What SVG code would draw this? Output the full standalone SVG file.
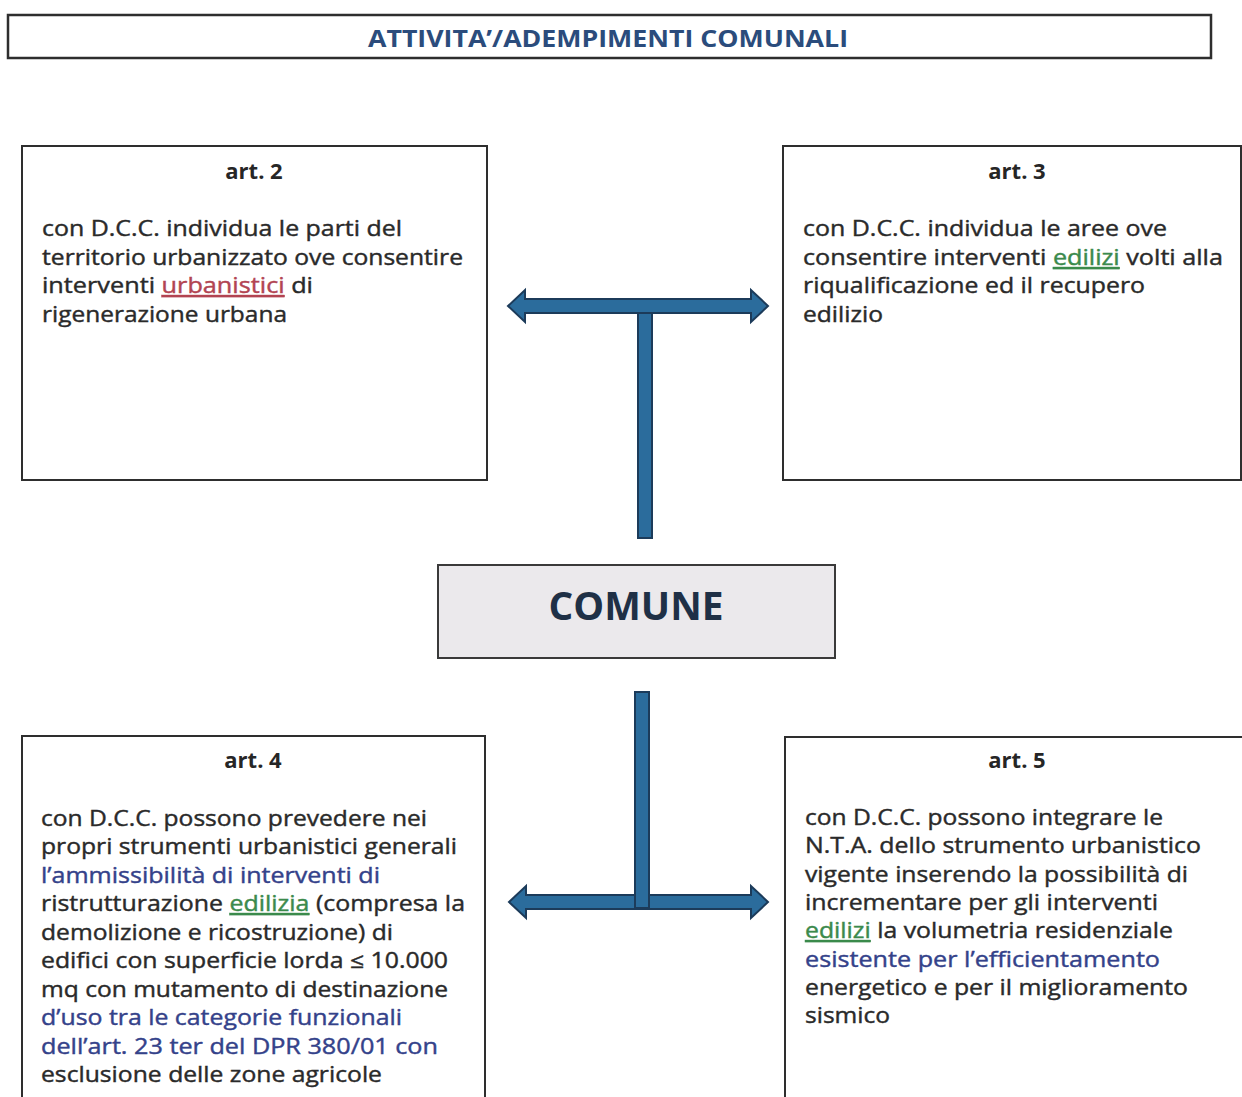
<svg xmlns="http://www.w3.org/2000/svg" width="1242" height="1097" viewBox="0 0 1242 1097">
<defs>
<style>
.box{fill:#ffffff;stroke:#2e2e2e;stroke-width:2}
.title{font-family:"Open Sans","Liberation Sans",sans-serif;font-weight:bold;font-size:24px;fill:#2b4c7c}
.head{font-family:"Open Sans","Liberation Sans",sans-serif;font-weight:bold;font-size:22px;fill:#262626;text-anchor:middle}
.body{font-family:"Open Sans","Liberation Sans",sans-serif;font-size:21px;fill:#2a2a2a;stroke:#2a2a2a;stroke-width:0.4}
.blue{fill:#34428a;stroke:#34428a}
.green{fill:#3b8a4c;stroke:#3b8a4c;text-decoration:underline}
.red{fill:#b24452;stroke:#b24452;text-decoration:underline}
.arrow{fill:#2b6c9c;stroke:#1c3b5a;stroke-width:2;stroke-linejoin:miter}
</style>
</defs>
<rect width="1242" height="1097" fill="#ffffff"/>

<g id="title">
<rect x="8" y="15" width="1203" height="43" class="box" style="stroke-width:2.5"/>
<text x="368" y="47" class="title" textLength="480" lengthAdjust="spacingAndGlyphs">ATTIVITA’/ADEMPIMENTI COMUNALI</text>
</g>

<g id="connectors">
<rect x="638" y="310" width="14" height="228" class="arrow"/>
<polygon class="arrow" points="508,306 525,290 525,299 751,299 751,290 768,306 751,322 751,313 525,313 525,322"/>
<polygon class="arrow" points="509,902 526,886 526,895 751,895 751,886 768,902 751,918 751,909 526,909 526,918"/>
<rect x="635" y="692" width="14" height="216" class="arrow"/>
</g>

<g id="art2">
<rect x="22" y="146" width="465" height="334" class="box"/>
<text x="254" y="179" class="head">art. 2</text>
<text x="42" y="236" class="body" textLength="360" lengthAdjust="spacingAndGlyphs">con D.C.C. individua le parti del</text>
<text x="42" y="265" class="body" textLength="421" lengthAdjust="spacingAndGlyphs">territorio urbanizzato ove consentire</text>
<text x="42" y="293" class="body" textLength="271" lengthAdjust="spacingAndGlyphs">interventi <tspan class="red">urbanistici</tspan> di</text>
<text x="42" y="322" class="body" textLength="245" lengthAdjust="spacingAndGlyphs">rigenerazione urbana</text>
</g>

<g id="art3">
<rect x="783" y="146" width="458" height="334" class="box"/>
<text x="1017" y="179" class="head">art. 3</text>
<text x="803" y="236" class="body" textLength="364" lengthAdjust="spacingAndGlyphs">con D.C.C. individua le aree ove</text>
<text x="803" y="265" class="body" textLength="420" lengthAdjust="spacingAndGlyphs">consentire interventi <tspan class="green">edilizi</tspan> volti alla</text>
<text x="803" y="293" class="body" textLength="342" lengthAdjust="spacingAndGlyphs">riqualificazione ed il recupero</text>
<text x="803" y="322" class="body" textLength="80" lengthAdjust="spacingAndGlyphs">edilizio</text>
</g>

<g id="comune">
<rect x="438" y="565" width="397" height="93" style="fill:#ebe9ec;stroke:#3a3a3a;stroke-width:2"/>
<text x="636" y="620" text-anchor="middle" style="font-family:'Open Sans','Liberation Sans',sans-serif;font-weight:bold;font-size:40px;fill:#1f3046" textLength="175" lengthAdjust="spacingAndGlyphs">COMUNE</text>
</g>

<g id="art4">
<rect x="22" y="736" width="463" height="380" class="box"/>
<text x="253" y="768" class="head">art. 4</text>
<text x="41" y="826" class="body" textLength="386" lengthAdjust="spacingAndGlyphs">con D.C.C. possono prevedere nei</text>
<text x="41" y="854" class="body" textLength="416" lengthAdjust="spacingAndGlyphs">propri strumenti urbanistici generali</text>
<text x="41" y="883" class="body blue" textLength="339" lengthAdjust="spacingAndGlyphs">l’ammissibilità di interventi di</text>
<text x="41" y="911" class="body" textLength="424" lengthAdjust="spacingAndGlyphs">ristrutturazione <tspan class="green">edilizia</tspan> (compresa la</text>
<text x="41" y="940" class="body" textLength="352" lengthAdjust="spacingAndGlyphs">demolizione e ricostruzione) di</text>
<text x="41" y="968" class="body" textLength="407" lengthAdjust="spacingAndGlyphs">edifici con superficie lorda ≤ 10.000</text>
<text x="41" y="997" class="body" textLength="407" lengthAdjust="spacingAndGlyphs">mq con mutamento di destinazione</text>
<text x="41" y="1025" class="body blue" textLength="361" lengthAdjust="spacingAndGlyphs">d’uso tra le categorie funzionali</text>
<text x="41" y="1054" class="body blue" textLength="397" lengthAdjust="spacingAndGlyphs">dell’art. 23 ter del DPR 380/01 con</text>
<text x="41" y="1082" class="body" textLength="341" lengthAdjust="spacingAndGlyphs">esclusione delle zone agricole</text>
</g>

<g id="art5">
<rect x="785" y="737" width="470" height="380" class="box"/>
<text x="1017" y="768" class="head">art. 5</text>
<text x="805" y="825" class="body" textLength="358" lengthAdjust="spacingAndGlyphs">con D.C.C. possono integrare le</text>
<text x="805" y="853" class="body" textLength="396" lengthAdjust="spacingAndGlyphs">N.T.A. dello strumento urbanistico</text>
<text x="805" y="882" class="body" textLength="383" lengthAdjust="spacingAndGlyphs">vigente inserendo la possibilità di</text>
<text x="805" y="910" class="body" textLength="353" lengthAdjust="spacingAndGlyphs">incrementare per gli interventi</text>
<text x="805" y="938" class="body" textLength="368" lengthAdjust="spacingAndGlyphs"><tspan class="green">edilizi</tspan> la volumetria residenziale</text>
<text x="805" y="967" class="body blue" textLength="355" lengthAdjust="spacingAndGlyphs">esistente per l’efficientamento</text>
<text x="805" y="995" class="body" textLength="383" lengthAdjust="spacingAndGlyphs">energetico e per il miglioramento</text>
<text x="805" y="1023" class="body" textLength="85" lengthAdjust="spacingAndGlyphs">sismico</text>
</g>
</svg>
